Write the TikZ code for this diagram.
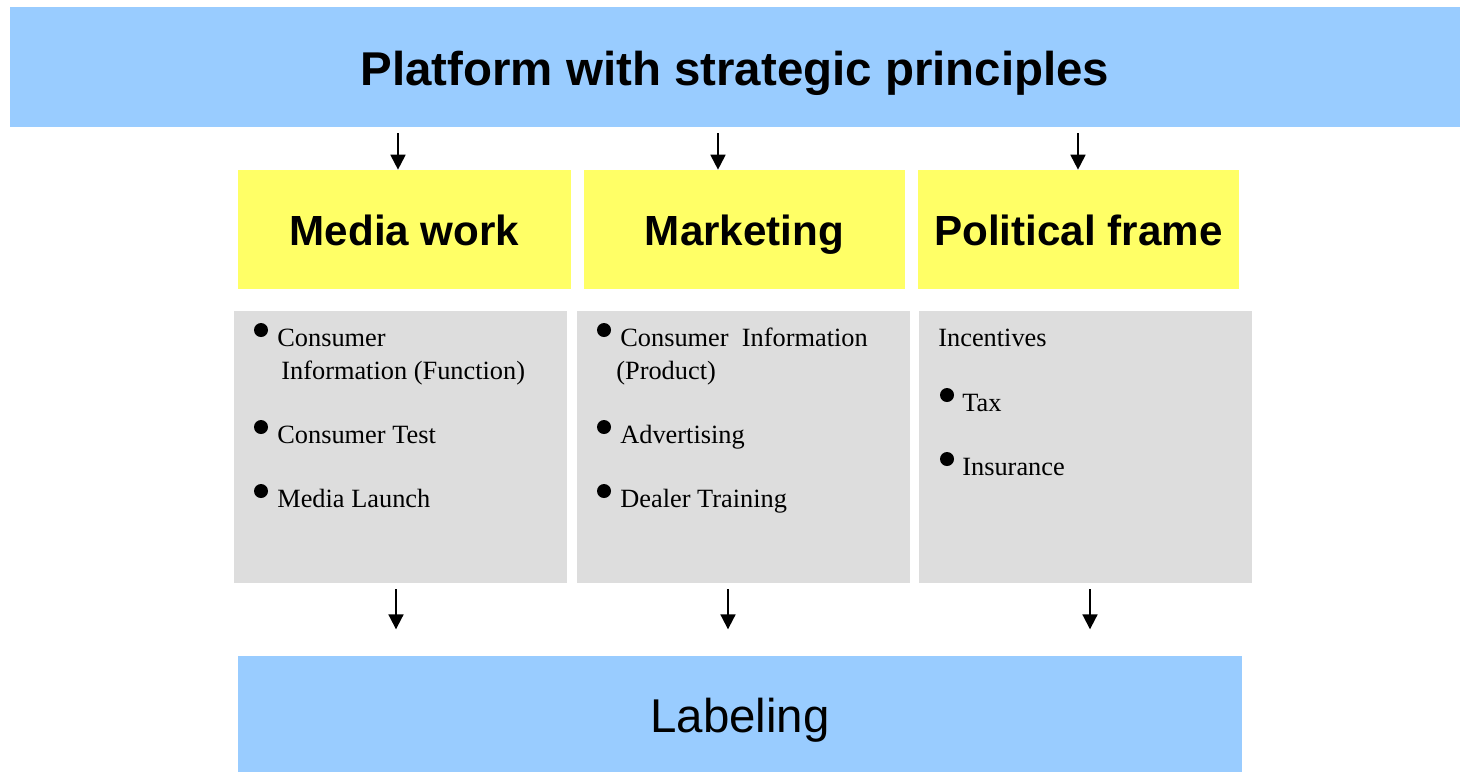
\documentclass[tikz,border=0pt]{standalone}
\usepackage{fontspec}
\setmainfont{Liberation Serif}
\newfontfamily\arial{Liberation Sans}
\usetikzlibrary{arrows.meta}
\definecolor{barblue}{HTML}{99CCFF}
\definecolor{headyellow}{HTML}{FFFF66}
\definecolor{boxgray}{HTML}{DDDDDD}

\begin{document}
\begin{tikzpicture}[x=0.02cm, y=-0.02cm,
    bar/.style={fill=barblue, inner sep=0pt, text height=21pt, text depth=0pt},
    head/.style={fill=headyellow, minimum height=2.38cm, inner sep=0pt,
      text height=18.7pt, text depth=0pt,
      font=\arial\bfseries\fontsize{24}{28}\selectfont},
    panel/.style={fill=boxgray, minimum width=6.66cm, minimum height=5.44cm, inner sep=0pt},
    item/.style={anchor=base west, inner sep=0pt, font=\fontsize{15}{18}\selectfont},
    arr/.style={-{Triangle[length=8.5pt,width=8.5pt]}, line width=1.1pt}]
    \useasboundingbox (0,0) rectangle (1460,772);

    % top and bottom bars
    \node[bar, minimum width=29cm, minimum height=2.4cm,
      font=\arial\bfseries\fontsize{27}{32}\selectfont] (top) at (735,67)
      {Platform with strategic principles};
    \node[bar, minimum width=20.08cm, minimum height=2.32cm,
      font=\arial\fontsize{27}{32}\selectfont] (labeling) at (740,714) {Labeling};

    % headings
    \node[head, minimum width=6.66cm] (media) at (404.5,229.5) {Media work};
    \node[head, minimum width=6.42cm] (marketing) at (744.5,229.5) {Marketing};
    \node[head, minimum width=6.42cm] (political) at (1078.5,229.5) {Political frame};

    % grey panels
    \node[panel] (work) at (400.5,447) {};
    \node[panel] (market) at (743.5,447) {};
    \node[panel] (frame) at (1085.5,447) {};

    % panel texts
    \node[item] (work1) at (277,346) {Consumer};
    \node[item] (work2) at (281,379) {Information (Function)};
    \node[item] (work3) at (277,443) {Consumer Test};
    \node[item] (work4) at (277,507) {Media Launch};

    \node[item] (market1) at (620,346) {Consumer\ \ Information};
    \node[item] (market2) at (616,379) {(Product)};
    \node[item] (market3) at (620,443) {Advertising};
    \node[item] (market4) at (620,507) {Dealer Training};

    \node[item] (frame1) at (938,346) {Incentives};
    \node[item] (frame2) at (962,411) {Tax};
    \node[item] (frame3) at (962,475) {Insurance};

    \foreach \x in {261,604}
      \foreach \y in {330,427,491}
      \fill (\x,\y) circle (0.14cm);
    \foreach \y in {395,459}
      \fill (947,\y) circle (0.14cm);

    % arrows
    \foreach \x/\n in {398/media, 718/marketing, 1078/political}
      \draw[arr, shorten <=3.4pt] (top.south -| \x,0) -- (\n.north -| \x,0);
    \foreach \x/\n in {396/work, 728/market, 1090/frame}
      \draw[arr, shorten <=3.4pt, shorten >=15pt] (\n.south -| \x,0) -- (labeling.north -| \x,0);
\end{tikzpicture}
\end{document}
